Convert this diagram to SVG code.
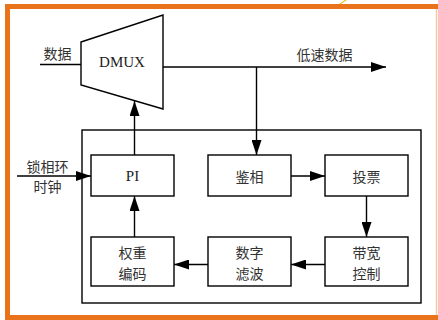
<svg xmlns="http://www.w3.org/2000/svg" width="438" height="320" viewBox="0 0 438 320">
<style>
.box{fill:#fff;stroke:#000;stroke-width:1.4}
.ln{fill:none;stroke:#000;stroke-width:1.4}
.cjk{font-family:"Noto Sans CJK SC","Noto Sans",sans-serif;font-size:14px;fill:#333;text-anchor:middle}
.lat{font-family:"Liberation Serif",serif;font-size:15px;fill:#222;text-anchor:middle}
</style>
<defs>
<marker id="ah" markerWidth="15" markerHeight="10" refX="15" refY="5" orient="auto" markerUnits="userSpaceOnUse">
<path d="M0,0 L15,5 L0,10 Z" fill="#000"/>
</marker>
</defs>
<rect x="0" y="0" width="438" height="320" fill="#fff"/>
<g id="frame">
<path d="M7.5,320 V6.5 H438" fill="none" stroke="#E8731A" stroke-width="5"/>
<path d="M5,317.5 H438" fill="none" stroke="#E8731A" stroke-width="5"/>
<line x1="436.5" y1="9" x2="436.5" y2="315" stroke="#F6C9A0" stroke-width="1.5"/>
<path d="M339,4 L345,0 L347,0 L341,4 Z" fill="#F5B820"/>
</g>
<g id="loop">
<rect class="box" x="82" y="130" width="339" height="173"/>
</g>
<g id="dmux">
<path class="box" d="M81,42 L163,15 L163,109 L81,85 Z"/>
<text class="lat" x="122" y="67">DMUX</text>
</g>
<g id="pi">
<rect class="box" x="91" y="155" width="83" height="41"/>
<text class="lat" x="132.5" y="181">PI</text>
</g>
<g id="jianxiang">
<rect class="box" x="208" y="155" width="83" height="41"/>
<text class="cjk" x="249.5" y="182">鉴相</text>
</g>
<g id="toupiao">
<rect class="box" x="325" y="155" width="83" height="41"/>
<text class="cjk" x="366.5" y="182">投票</text>
</g>
<g id="quanzhong">
<rect class="box" x="91" y="237" width="83" height="49"/>
<text class="cjk" x="132.5" y="258">权重</text>
<text class="cjk" x="132.5" y="279">编码</text>
</g>
<g id="shuzi">
<rect class="box" x="208" y="237" width="83" height="49"/>
<text class="cjk" x="249.5" y="258">数字</text>
<text class="cjk" x="249.5" y="279">滤波</text>
</g>
<g id="daikuan">
<rect class="box" x="325" y="237" width="83" height="49"/>
<text class="cjk" x="366.5" y="258">带宽</text>
<text class="cjk" x="366.5" y="279">控制</text>
</g>
<g id="labels">
<text class="cjk" x="57.5" y="59">数据</text>
<text class="cjk" x="324.5" y="60">低速数据</text>
<text class="cjk" x="47.5" y="172">锁相环</text>
<text class="cjk" x="47.5" y="192">时钟</text>
</g>
<g id="connectors">
<line class="ln" x1="40" y1="64.5" x2="81" y2="64.5"/>
<line class="ln" x1="163" y1="67" x2="386" y2="67" marker-end="url(#ah)"/>
<line class="ln" x1="256.5" y1="67" x2="256.5" y2="155" marker-end="url(#ah)"/>
<line class="ln" x1="134.5" y1="155" x2="134.5" y2="101" marker-end="url(#ah)"/>
<line class="ln" x1="17" y1="176" x2="91" y2="176" marker-end="url(#ah)"/>
<line class="ln" x1="291" y1="176" x2="325" y2="176" marker-end="url(#ah)"/>
<line class="ln" x1="366.5" y1="196" x2="366.5" y2="237" marker-end="url(#ah)"/>
<line class="ln" x1="325" y1="264.5" x2="291" y2="264.5" marker-end="url(#ah)"/>
<line class="ln" x1="208" y1="264.5" x2="174" y2="264.5" marker-end="url(#ah)"/>
<line class="ln" x1="134.5" y1="237" x2="134.5" y2="196" marker-end="url(#ah)"/>
</g>
</svg>
